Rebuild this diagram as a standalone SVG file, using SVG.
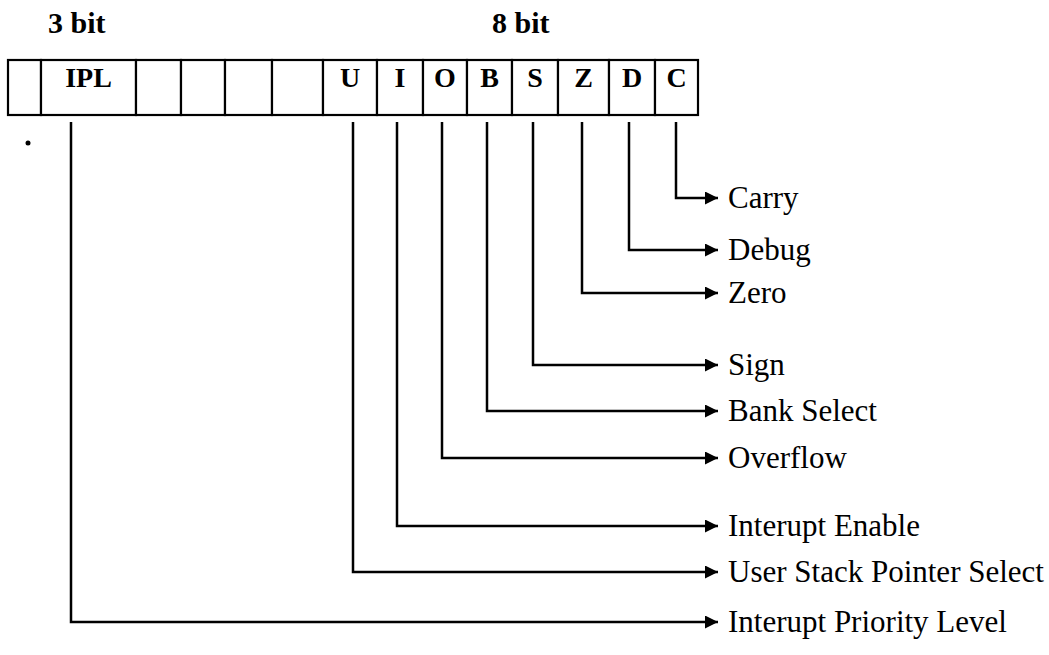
<svg xmlns="http://www.w3.org/2000/svg" width="1049" height="655" viewBox="0 0 1049 655">
  <defs>
    <style>
      .hdr { font-family: "Liberation Serif", "Times New Roman", serif; font-weight: bold; font-size: 30px; fill: #000; }
      .cell { fill: #fff; stroke: #000; stroke-width: 2.2; }
      .clab { font-family: "Liberation Serif", "Times New Roman", serif; font-weight: bold; font-size: 28px; fill: #000; text-anchor: middle; }
      .lab { font-family: "Liberation Serif", "Times New Roman", serif; font-size: 31px; fill: #000; }
      .conn { fill: none; stroke: #000; stroke-width: 2.5; stroke-linejoin: miter; marker-end: url(#arr); }
    </style>
    <marker id="arr" viewBox="0 0 13 13" refX="13" refY="6.5" markerWidth="13" markerHeight="13" markerUnits="userSpaceOnUse" orient="auto">
      <path d="M0,0 L13,6.5 L0,13 Z" fill="#000"/>
    </marker>
  </defs>
  <rect width="1049" height="655" fill="#fff"/>

  <g id="headers">
    <text class="hdr" x="48" y="33">3 bit</text>
    <text class="hdr" x="492" y="33">8 bit</text>
  </g>

  <g id="register">
    <g id="cell-0"><rect class="cell" x="8" y="60" width="33" height="55"/></g>
    <g id="cell-IPL"><rect class="cell" x="41" y="60" width="95" height="55"/><text class="clab" x="88.5" y="87">IPL</text></g>
    <g id="cell-r1"><rect class="cell" x="136" y="60" width="45" height="55"/></g>
    <g id="cell-r2"><rect class="cell" x="181" y="60" width="44" height="55"/></g>
    <g id="cell-r3"><rect class="cell" x="225" y="60" width="47" height="55"/></g>
    <g id="cell-r4"><rect class="cell" x="272" y="60" width="51" height="55"/></g>
    <g id="cell-U"><rect class="cell" x="323" y="60" width="54" height="55"/><text class="clab" x="350" y="87">U</text></g>
    <g id="cell-I"><rect class="cell" x="377" y="60" width="46" height="55"/><text class="clab" x="400" y="87">I</text></g>
    <g id="cell-O"><rect class="cell" x="423" y="60" width="44" height="55"/><text class="clab" x="445" y="87">O</text></g>
    <g id="cell-B"><rect class="cell" x="467" y="60" width="45" height="55"/><text class="clab" x="489.5" y="87">B</text></g>
    <g id="cell-S"><rect class="cell" x="512" y="60" width="46" height="55"/><text class="clab" x="535" y="87">S</text></g>
    <g id="cell-Z"><rect class="cell" x="558" y="60" width="51" height="55"/><text class="clab" x="583.5" y="87">Z</text></g>
    <g id="cell-D"><rect class="cell" x="609" y="60" width="46" height="55"/><text class="clab" x="632" y="87">D</text></g>
    <g id="cell-C"><rect class="cell" x="655" y="60" width="43" height="55"/><text class="clab" x="676.5" y="87">C</text></g>
  </g>

  <circle cx="28" cy="143" r="2.5" fill="#000"/>

  <g id="connectors">
    <path class="conn" d="M676,122 V198 H718"/>
    <path class="conn" d="M629,122 V250 H718"/>
    <path class="conn" d="M582,122 V293 H718"/>
    <path class="conn" d="M533,122 V365 H718"/>
    <path class="conn" d="M487,122 V411 H718"/>
    <path class="conn" d="M442,122 V458 H718"/>
    <path class="conn" d="M397,122 V526 H718"/>
    <path class="conn" d="M353,122 V572 H718"/>
    <path class="conn" d="M71,122 V622 H718"/>
  </g>

  <g id="labels">
    <g id="lab-carry"><text class="lab" x="728" y="208">Carry</text></g>
    <g id="lab-debug"><text class="lab" x="728" y="260">Debug</text></g>
    <g id="lab-zero"><text class="lab" x="728" y="303">Zero</text></g>
    <g id="lab-sign"><text class="lab" x="728" y="375">Sign</text></g>
    <g id="lab-bank"><text class="lab" x="728" y="421">Bank Select</text></g>
    <g id="lab-overflow"><text class="lab" x="728" y="468">Overflow</text></g>
    <g id="lab-ie"><text class="lab" x="728" y="536">Interupt Enable</text></g>
    <g id="lab-usp"><text class="lab" x="728" y="582">User Stack Pointer Select</text></g>
    <g id="lab-ipl"><text class="lab" x="728" y="632">Interupt Priority Level</text></g>
  </g>
</svg>
